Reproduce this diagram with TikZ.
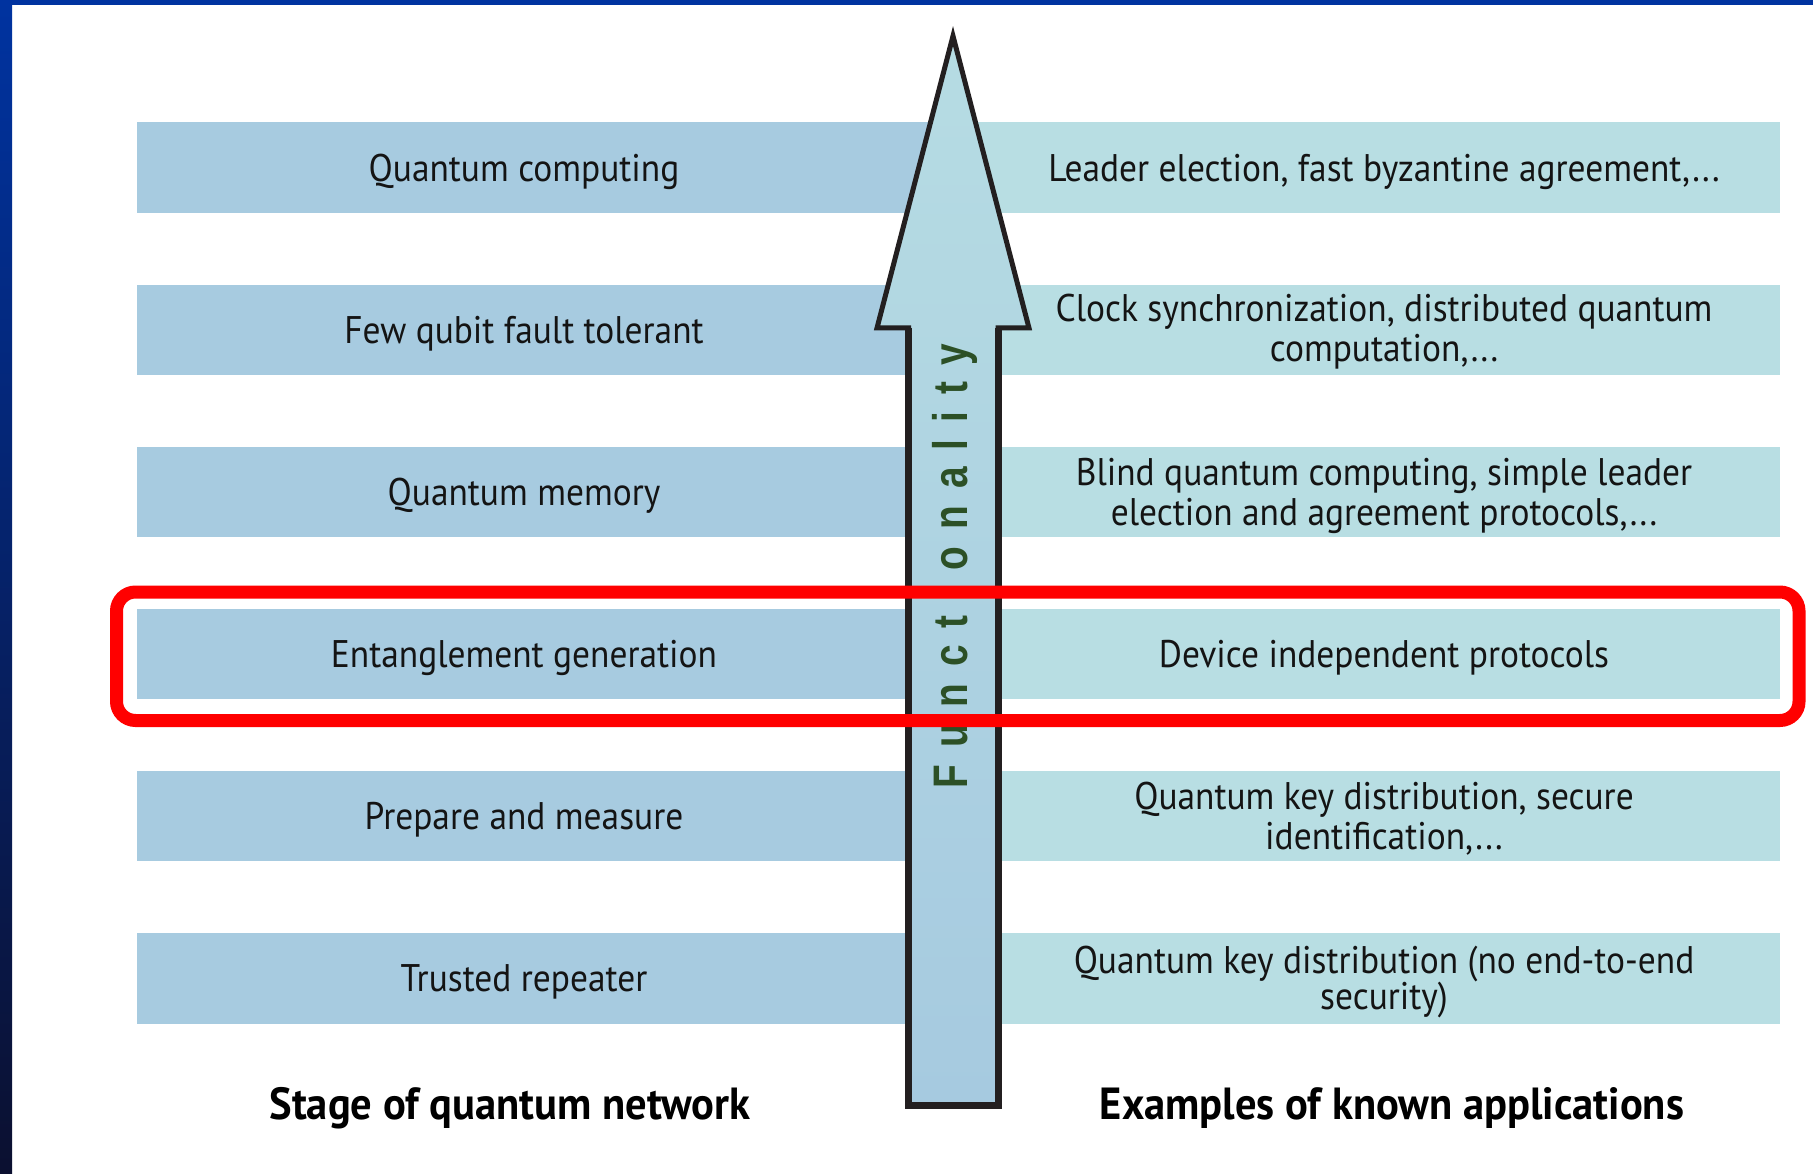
\documentclass[tikz,border=0pt]{standalone}
\usepackage{fontspec}
\setmainfont{PT Sans}
\newfontfamily\boxfont{PT Sans}[FakeStretch=0.92]
\newfontfamily\capfont{PT Sans}[FakeStretch=0.945]
\newfontfamily\axisfont{Liberation Sans}[FakeStretch=0.8,LetterSpace=35]

\definecolor{stagebg}{HTML}{A7CBE0}
\definecolor{appbg}{HTML}{B8DEE3}
\definecolor{arrowtop}{HTML}{B6DCE3}
\definecolor{arrowbot}{HTML}{A6CAE0}
\definecolor{outline}{HTML}{231F20}
\definecolor{axisgreen}{HTML}{2C5026}
\definecolor{ink}{HTML}{141414}
\definecolor{frametop}{HTML}{0033A0}
\definecolor{framebot}{HTML}{0B1030}
\definecolor{hilite}{HTML}{FF0000}

\begin{document}
\begin{tikzpicture}[x=1pt,y=-1pt,
  stagebar/.style={fill=stagebg, draw=none, minimum width=816pt, minimum height=90.5pt, inner sep=0pt, outer sep=0pt},
  appbar/.style={fill=appbg, draw=none, minimum width=827pt, minimum height=90.5pt, inner sep=0pt, outer sep=0pt},
  rowtext/.style={font=\boxfont\fontsize{38.5}{40}\selectfont, text=ink, align=center, inner sep=0pt},
  caption/.style={font=\capfont\bfseries\fontsize{45}{48}\selectfont, text=black, inner sep=0pt, anchor=base},
  axislabel/.style={font=\axisfont\bfseries\fontsize{48.5}{50}\selectfont, text=axisgreen, inner sep=0pt, rotate=90, anchor=base},
]
\useasboundingbox (0,0) rectangle (1813,1174);
\fill[white] (0,0) rectangle (1813,1174);

% slide frame: gradient band on the left, solid band on top
\shade[top color=frametop, bottom color=framebot] (0,0) rectangle (12,1174);
\fill[frametop] (0,0) rectangle (1813,5);

% stages (left) and applications (right)
\node[stagebar] (s1) at (545,167.75) {};
\node[stagebar] (s2) at (545,329.85) {};
\node[stagebar] (s3) at (545,491.95) {};
\node[stagebar] (s4) at (545,654.05) {};
\node[stagebar] (s5) at (545,816.15) {};
\node[stagebar] (s6) at (545,978.25) {};

\node[appbar] (a1) at (1366.5,167.75) {};
\node[appbar] (a2) at (1366.5,329.85) {};
\node[appbar] (a3) at (1366.5,491.95) {};
\node[appbar] (a4) at (1366.5,654.05) {};
\node[appbar] (a5) at (1366.5,816.15) {};
\node[appbar] (a6) at (1366.5,978.25) {};

\node[rowtext] (st1) at (524,172) {Quantum computing};
\node[rowtext] (st2) at (524,334) {Few qubit fault tolerant};
\node[rowtext] (st3) at (524,496) {Quantum memory};
\node[rowtext] (st4) at (524,658) {Entanglement generation};
\node[rowtext] (st5) at (524,820) {Prepare and measure};
\node[rowtext] (st6) at (524,982) {Trusted repeater};

\node[rowtext] (at1) at (1384,172) {Leader election, fast byzantine agreement,...};
\node[rowtext] (at2) at (1384,331.5) {Clock synchronization, distributed quantum\\computation,...};
\node[rowtext] (at3) at (1384,496) {Blind quantum computing, simple leader\\election and agreement protocols,...};
\node[rowtext] (at4) at (1384,658) {Device independent protocols};
\node[rowtext] (at5) at (1384,819) {Quantum key distribution, secure\\identification,...};
\node[rowtext, font=\boxfont\fontsize{38.5}{36}\selectfont] (at6) at (1384,982) {Quantum key distribution (no end-to-end\\security)};

% functionality arrow
\shade[top color=arrowtop, bottom color=arrowbot]
  (953,36) -- (1029,328) -- (998,328) -- (998,1105) -- (908.5,1105) -- (908.5,328) -- (877,328) -- cycle;
\draw[outline, line width=5pt]
  (953,36) -- (1029,328) -- (998,328) -- (998,1105) -- (908.5,1105) -- (908.5,328) -- (877,328) -- cycle;
\draw[outline, line width=7pt] (908.5,328) -- (908.5,1105) -- (998,1105) -- (998,328);
\node[axislabel] (func) at (967,566) {Functionality};

% highlighted stage
\draw[hilite, line width=13pt, rounded corners=19pt] (116.5,592) rectangle (1799,720.5);

% column captions
\node[caption] (c1) at (510,1119) {Stage of quantum network};
\node[caption] (c2) at (1392,1119) {Examples of known applications};
\end{tikzpicture}
\end{document}
